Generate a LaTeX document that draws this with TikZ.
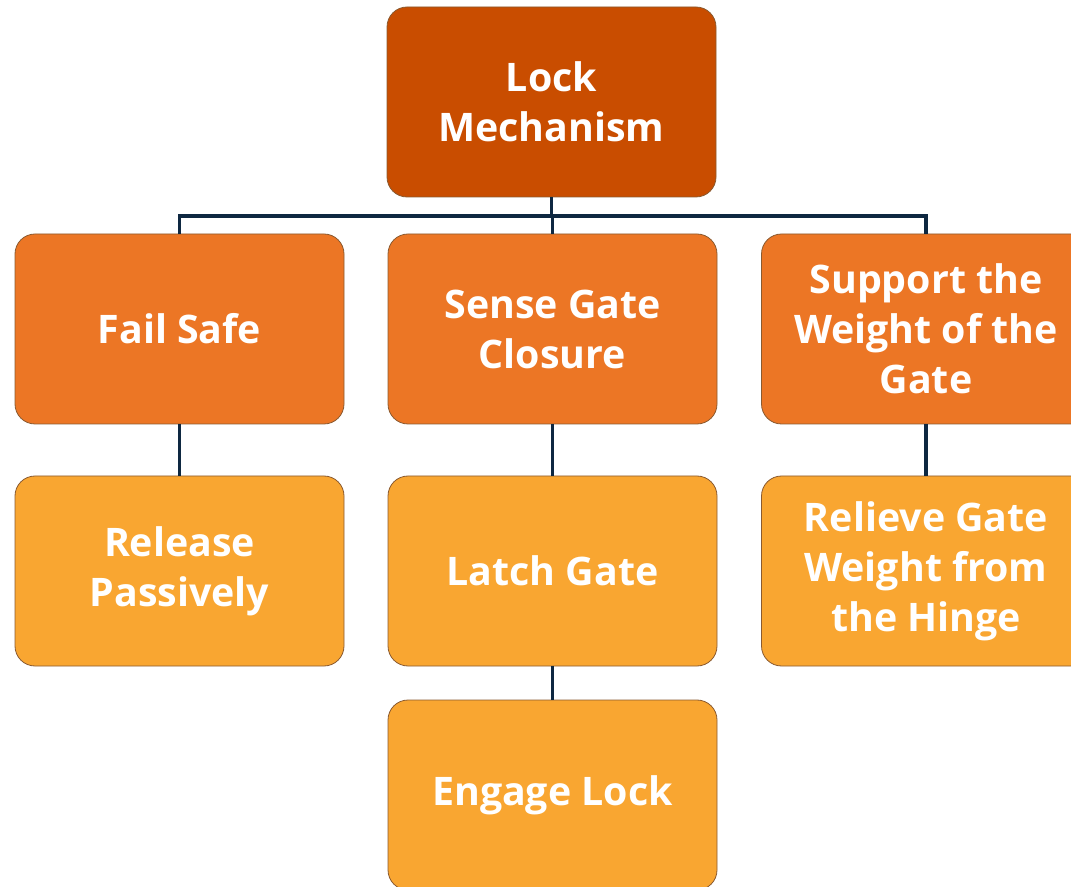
\documentclass[tikz,border=0pt]{standalone}
\usepackage{fontspec}
\setmainfont{Open Sans}
\definecolor{topc}{HTML}{C94D00}
\definecolor{midc}{HTML}{EC7625}
\definecolor{lowc}{HTML}{F9A631}
\definecolor{edgec}{HTML}{8A5A30}
\definecolor{linec}{HTML}{0E2841}
\tikzset{
  box/.style={draw=edgec, line width=0.6pt, rounded corners=15pt,
    minimum width=246.75pt, minimum height=142.5pt, inner sep=0pt,
    align=center, text=white, font=\fontsize{29.5}{37.5}\selectfont\bfseries},
  topbox/.style={box, fill=topc},
  midbox/.style={box, fill=midc},
  lowbox/.style={box, fill=lowc},
  conn/.style={draw=linec, line width=2.3pt}
}
\begin{document}
\begin{tikzpicture}[x=0.75pt, y=-0.75pt]
\useasboundingbox (0,0) rectangle (1071,887);
\clip (0,0) rectangle (1071,887);
\node[topbox] (lock) at (551.5,102) {Lock\\Mechanism};
\node[midbox] (fail) at (179.5,329) {Fail Safe};
\node[midbox] (sense) at (552.5,329) {Sense Gate\\Closure};
\node[midbox] (support) at (926,329) {Support the\\Weight of the\\Gate};
\node[lowbox] (release) at (179.5,571) {Release\\Passively};
\node[lowbox] (latch) at (552.5,571) {Latch Gate};
\node[lowbox] (relieve) at (926,571) {Relieve Gate\\Weight from\\the Hinge};
\node[lowbox] (engage) at (552.5,795) {Engage Lock};
\coordinate (bus) at (551.5,216);
\draw[conn] (lock.south) -- (bus);
\draw[conn] (fail.north) |- (bus);
\draw[conn] (support.north) |- (bus);
\draw[conn] (sense.north) -- (sense.north |- bus);
\draw[conn] (fail.south) -- (release.north);
\draw[conn] (sense.south) -- (latch.north);
\draw[conn] (support.south) -- (relieve.north);
\draw[conn] (latch.south) -- (engage.north);
\end{tikzpicture}
\end{document}
